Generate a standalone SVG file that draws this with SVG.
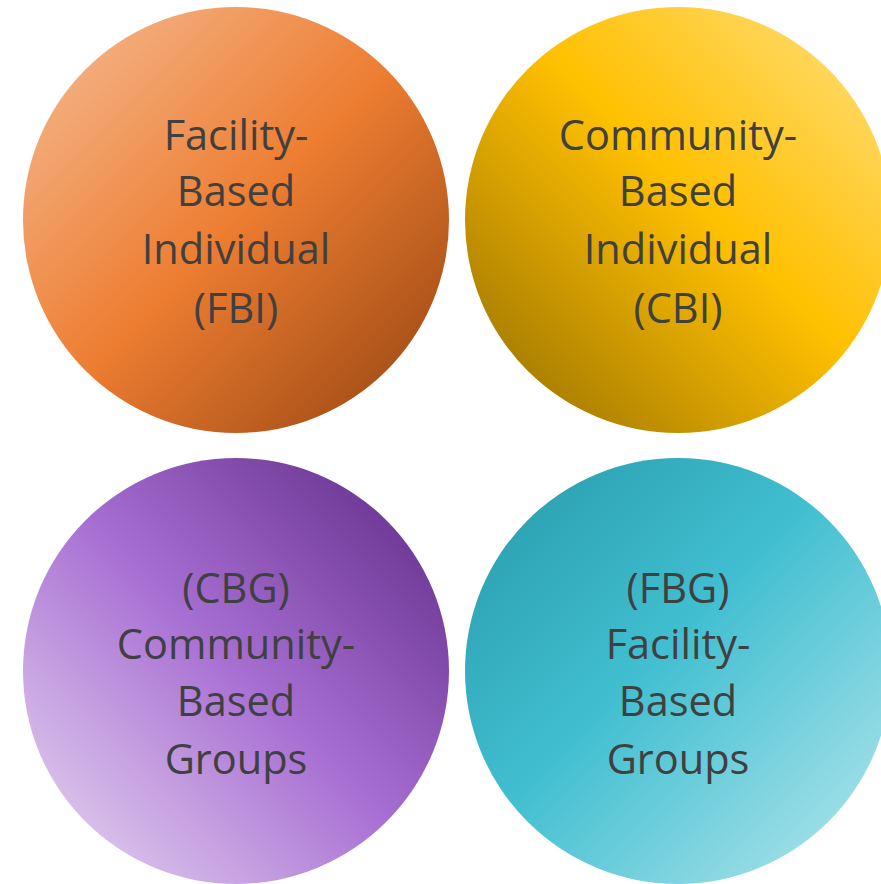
<svg xmlns="http://www.w3.org/2000/svg" width="881" height="884" viewBox="0 0 881 884">
<defs>
<linearGradient id="gOrange" x1="0.1" y1="0.1" x2="0.9" y2="0.9">
<stop offset="0" stop-color="#f4b183"/>
<stop offset="0.5" stop-color="#ed7d31"/>
<stop offset="1" stop-color="#a44e17"/>
</linearGradient>
<linearGradient id="gYellow" x1="0.9" y1="0.1" x2="0.1" y2="0.9">
<stop offset="0" stop-color="#ffd966"/>
<stop offset="0.45" stop-color="#ffc000"/>
<stop offset="1" stop-color="#a47a00"/>
</linearGradient>
<linearGradient id="gPurple" x1="0.9" y1="0.1" x2="0.1" y2="0.9">
<stop offset="0" stop-color="#6a3592"/>
<stop offset="0.5" stop-color="#a86fd3"/>
<stop offset="1" stop-color="#ddc8ec"/>
</linearGradient>
<linearGradient id="gTeal" x1="0.1" y1="0.1" x2="0.9" y2="0.9">
<stop offset="0" stop-color="#2ca1b1"/>
<stop offset="0.45" stop-color="#41bfd1"/>
<stop offset="1" stop-color="#a3e0e8"/>
</linearGradient>
</defs>
<style>
.lbl{font-family:"Open Sans","Lato",sans-serif;font-size:41.5px;fill:#404040;text-anchor:middle}
</style>
<g id="fbi">
<circle cx="236" cy="220" r="213" fill="url(#gOrange)"/>
<text class="lbl" x="236" y="150">Facility-</text>
<text class="lbl" x="236" y="206">Based</text>
<text class="lbl" x="236" y="264">Individual</text>
<text class="lbl" x="236" y="323">(FBI)</text>
</g>
<g id="cbi">
<circle cx="678" cy="220" r="213" fill="url(#gYellow)"/>
<text class="lbl" x="678" y="150">Community-</text>
<text class="lbl" x="678" y="206">Based</text>
<text class="lbl" x="678" y="264">Individual</text>
<text class="lbl" x="678" y="323">(CBI)</text>
</g>
<g id="cbg">
<circle cx="236" cy="671" r="213" fill="url(#gPurple)"/>
<text class="lbl" x="236" y="603">(CBG)</text>
<text class="lbl" x="236" y="659">Community-</text>
<text class="lbl" x="236" y="716">Based</text>
<text class="lbl" x="236" y="774">Groups</text>
</g>
<g id="fbg">
<circle cx="678" cy="671" r="213" fill="url(#gTeal)"/>
<text class="lbl" x="678" y="603">(FBG)</text>
<text class="lbl" x="678" y="659">Facility-</text>
<text class="lbl" x="678" y="716">Based</text>
<text class="lbl" x="678" y="774">Groups</text>
</g>
<g id="connectors"/>
</svg>
